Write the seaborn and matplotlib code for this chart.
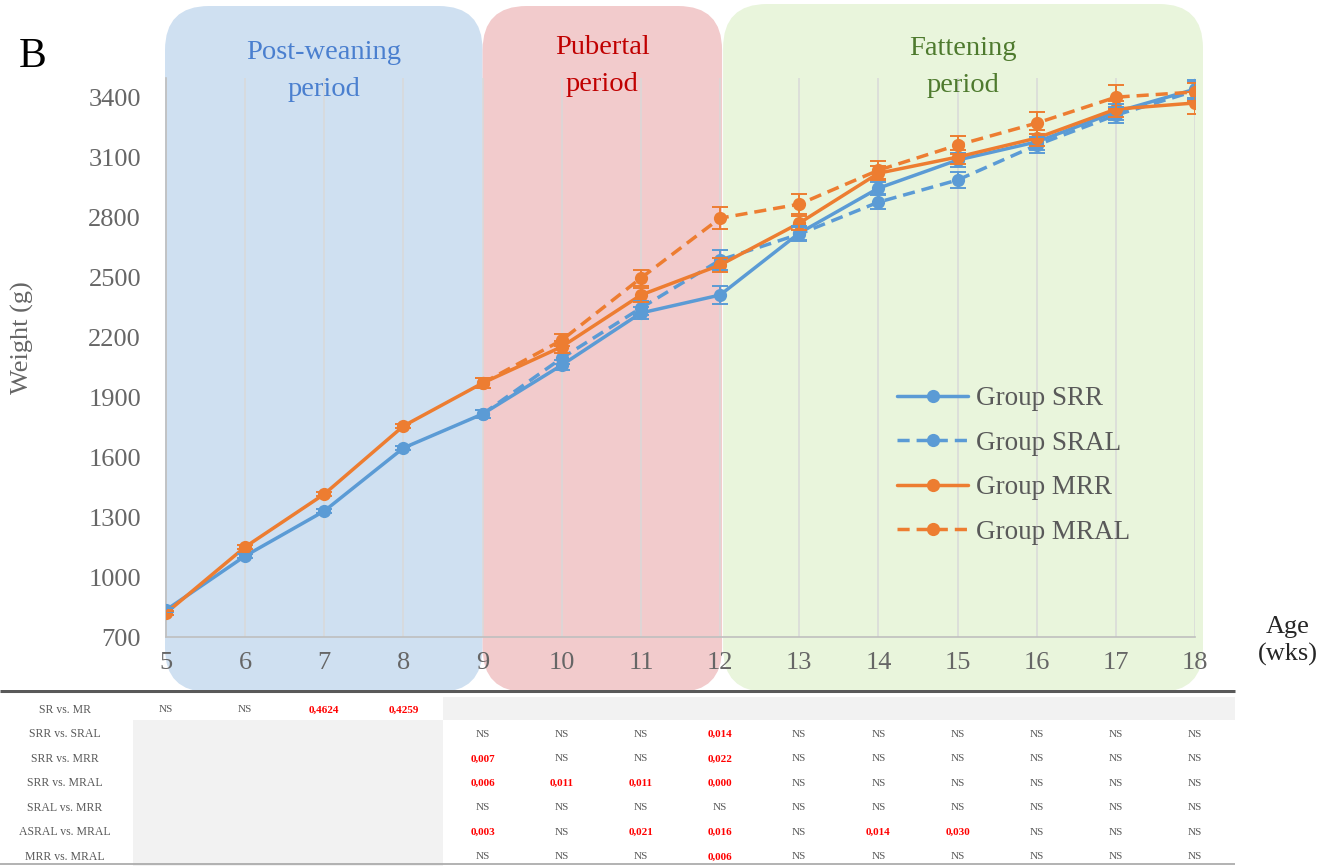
import matplotlib
matplotlib.use("Agg")
import numpy as np
import pandas as pd
import seaborn as sns
import matplotlib.pyplot as plt
from matplotlib.patches import FancyBboxPatch, Rectangle
from matplotlib.transforms import IdentityTransform
from matplotlib.lines import Line2D

# ---------------- data ----------------
weeks = [5, 6, 7, 8, 9, 10, 11, 12, 13, 14, 15, 16, 17, 18]
weeks_late = [9, 10, 11, 12, 13, 14, 15, 16, 17, 18]

srr = [835, 1106, 1331, 1647, 1817, 2062, 2323, 2413, 2723, 2948, 3089, 3180, 3330, 3444]
srr_se = [10, 12, 12, 12, 20, 25, 30, 45, 35, 30, 35, 40, 40, 45]
sral = [1817, 2097, 2348, 2588, 2718, 2878, 2989, 3164, 3314, 3435]
sral_se = [20, 28, 35, 50, 35, 35, 40, 40, 40, 45]
mrr = [820, 1151, 1416, 1757, 1972, 2154, 2413, 2563, 2773, 3023, 3104, 3199, 3344, 3375]
mrr_se = [10, 12, 12, 12, 25, 30, 35, 35, 35, 35, 35, 40, 40, 55]
mral = [1972, 2187, 2498, 2798, 2868, 3038, 3164, 3274, 3404, 3430]
mral_se = [25, 30, 40, 55, 50, 45, 45, 55, 60, 45]

group_names = ["Group SRR", "Group SRAL", "Group MRR", "Group MRAL"]
yticks = [700, 1000, 1300, 1600, 1900, 2200, 2500, 2800, 3100, 3400]

periods = ["Post-weaning\nperiod", "Pubertal\nperiod", "Fattening\nperiod"]
period_bounds = [(5, 9), (9, 12), (12, 18)]

row_labels = ["SR vs. MR", "SRR vs. SRAL", "SRR vs. MRR", "SRR vs. MRAL",
              "SRAL vs. MRR", "ASRAL vs. MRAL", "MRR vs. MRAL"]
row1_weeks = [5, 6, 7, 8]
row1_vals = ["NS", "NS", "0,4624", "0,4259"]
table_vals = [
    ["NS", "NS", "NS", "0,014", "NS", "NS", "NS", "NS", "NS", "NS"],
    ["0,007", "NS", "NS", "0,022", "NS", "NS", "NS", "NS", "NS", "NS"],
    ["0,006", "0,011", "0,011", "0,000", "NS", "NS", "NS", "NS", "NS", "NS"],
    ["NS", "NS", "NS", "NS", "NS", "NS", "NS", "NS", "NS", "NS"],
    ["0,003", "NS", "0,021", "0,016", "NS", "0,014", "0,030", "NS", "NS", "NS"],
    ["NS", "NS", "NS", "0,006", "NS", "NS", "NS", "NS", "NS", "NS"],
]

# ---------------- style ----------------
sns.set_theme(style="white")
plt.rcParams["font.family"] = ["Liberation Serif", "DejaVu Serif"]

BLUE = "#5B9BD5"
ORANGE = "#ED7D31"
GREY = "#595959"
TICKGREY = "#666666"
box_colors = ["#CFE0F1", "#F2CBCC", "#E9F5DC"]
period_text_colors = ["#4A7FCF", "#C00000", "#4E7A2E"]

W, H = 1341, 866
fig = plt.figure(figsize=(W / 100, H / 100), dpi=100)
ax = fig.add_axes([166 / W, 1 - 637 / H, (1195 - 166) / W, (637 - 78) / H])
ax.set_facecolor("none")

df = pd.concat([
    pd.DataFrame({"week": weeks, "weight": srr, "group": "Group SRR"}),
    pd.DataFrame({"week": weeks_late, "weight": sral, "group": "Group SRAL"}),
    pd.DataFrame({"week": weeks, "weight": mrr, "group": "Group MRR"}),
    pd.DataFrame({"week": weeks_late, "weight": mral, "group": "Group MRAL"}),
], ignore_index=True)

palette = {"Group SRR": BLUE, "Group SRAL": BLUE, "Group MRR": ORANGE, "Group MRAL": ORANGE}
dash = (3.5, 2)
dashes = {"Group SRR": "", "Group SRAL": dash, "Group MRR": "", "Group MRAL": dash}
markers = {g: "o" for g in group_names}

sns.lineplot(data=df, x="week", y="weight", hue="group", style="group",
             hue_order=group_names, style_order=group_names,
             palette=palette, dashes=dashes, markers=markers,
             markersize=9.5, markeredgewidth=0, linewidth=2.5,
             errorbar=None, legend=False, ax=ax, zorder=3)

for xs, ys, es, c in [(weeks, srr, srr_se, BLUE), (weeks_late, sral, sral_se, BLUE),
                      (weeks, mrr, mrr_se, ORANGE), (weeks_late, mral, mral_se, ORANGE)]:
    ax.errorbar(xs, ys, yerr=es, fmt="none", ecolor=c, elinewidth=1.4,
                capsize=6, capthick=1.4, zorder=3)

ax.set_xlim(5, 18)
ax.set_ylim(700, 3500)
ax.set_xticks(weeks)
ax.set_yticks(yticks)
ax.set_xlabel("")
ax.set_ylabel("")
ax.tick_params(axis="both", length=0, labelsize=19, colors=TICKGREY)
ax.tick_params(axis="x", pad=11)
ax.tick_params(axis="y", pad=18)
ax.grid(axis="x", color="#D9D9D9", lw=1.1)
ax.grid(axis="y", visible=False)
for s in ["top", "right"]:
    ax.spines[s].set_visible(False)
for s in ["left", "bottom"]:
    ax.spines[s].set_color("#BFBFBF")
    ax.spines[s].set_linewidth(1.2)


def xpx(w):
    return ax.transData.transform((w, 700))[0]


# ---------------- period boxes ----------------
pads = [(-1, 0), (0, 2), (3, 8)]
tops = [6, 6, 4]
text_y = [71, 66, 67]
for (a, b), (pl, pr), top, ty, col, label, tcol in zip(period_bounds, pads, tops, text_y,
                                                      box_colors, periods, period_text_colors):
    x0 = xpx(a) + pl
    x1 = xpx(b) + pr
    box = FancyBboxPatch((x0, H - 692), x1 - x0, 692 - top,
                         boxstyle="round,pad=0,rounding_size=44",
                         transform=IdentityTransform(), fc=col, ec="none", zorder=-5)
    fig.add_artist(box)
    fig.text((x0 + x1) / 2 / W, 1 - ty / H, label, ha="center", va="center",
             fontsize=20.5, color=tcol, linespacing=1.65)

# ---------------- legend ----------------
handles = [
    Line2D([], [], color=BLUE, lw=2.5, marker="o", ms=9.5, mew=0),
    Line2D([], [], color=BLUE, lw=2.5, marker="o", ms=9.5, mew=0, dashes=dash),
    Line2D([], [], color=ORANGE, lw=2.5, marker="o", ms=9.5, mew=0),
    Line2D([], [], color=ORANGE, lw=2.5, marker="o", ms=9.5, mew=0, dashes=dash),
]
fig.legend(handles, group_names, loc="upper left", bbox_to_anchor=(873 / W, 1 - 362 / H),
           frameon=False, fontsize=19.5, handlelength=2.6, labelspacing=0.72,
           handletextpad=0.3, labelcolor=GREY)

# ---------------- labels ----------------
fig.text(33 / W, 1 - 57 / H, "B", fontsize=30, ha="center", va="center", color="black")
fig.text(22 / W, 1 - 338 / H, "Weight (g)", rotation=90, fontsize=19, color=TICKGREY,
         ha="center", va="center")
fig.text(1288 / W, 1 - 641 / H, "Age\n(wks)", ha="center", va="center", fontsize=19,
         color="#262626", linespacing=1.25)

# ---------------- significance table ----------------
tax = fig.add_axes([0, 0, 1, 176 / H])
tax.set_facecolor("none")
tax.set_xlim(0, W)
tax.set_ylim(H, 690)
tax.axis("off")

half = (xpx(6) - xpx(5)) / 2
right_end = xpx(18) + half
split = (xpx(8) + xpx(9)) / 2
tax.add_patch(Rectangle((split, 697), right_end - split, 23, fc="#F2F2F2", ec="none", zorder=0))
tax.add_patch(Rectangle((xpx(5) - 33, 720), split - (xpx(5) - 33), 146, fc="#F2F2F2",
                        ec="none", zorder=0))
tax.plot([0, right_end], [691.5, 691.5], color=GREY, lw=2.2, solid_capstyle="butt", zorder=2)
tax.plot([0, right_end], [864.5, 864.5], color="#A6A6A6", lw=1.2, solid_capstyle="butt", zorder=2)

row_y = [710 + i * 24.5 for i in range(len(row_labels))]


def cell(x, y, s):
    if s == "NS":
        tax.text(x, y, s, ha="center", va="center", fontsize=8, color=GREY, zorder=3)
    else:
        tax.text(x, y, s, ha="center", va="center", fontsize=8, color="#FF0000",
                 fontweight="bold", zorder=3)


for lab, y in zip(row_labels, row_y):
    tax.text(65, y, lab, ha="center", va="center", fontsize=8.5, color=GREY, zorder=3)
for w, s in zip(row1_weeks, row1_vals):
    cell(xpx(w), row_y[0], s)
for vals, y in zip(table_vals, row_y[1:]):
    for w, s in zip(weeks_late, vals):
        cell(xpx(w), y, s)

fig.savefig("out.png", dpi=100)
